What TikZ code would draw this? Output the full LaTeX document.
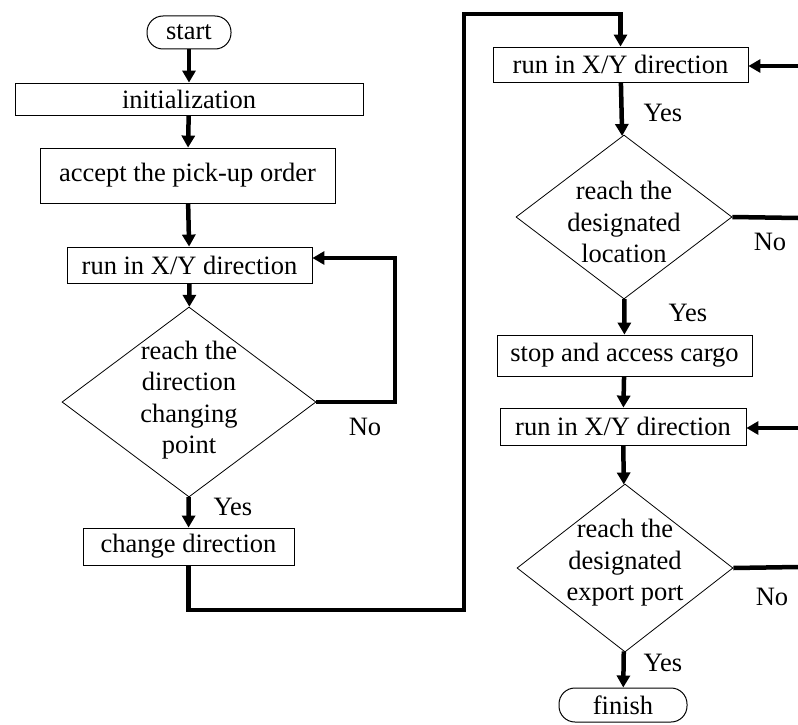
\documentclass[tikz,border=0pt]{standalone}
\usepackage{fontspec}
\setmainfont{Liberation Serif}
\usetikzlibrary{arrows.meta,shapes.geometric}
\begin{document}
\begin{tikzpicture}[x=1pt,y=-1pt,
  every node/.style={font=\fontsize{26.5}{31.5}\selectfont},
  box/.style={draw,line width=0.8pt,rectangle,inner sep=0pt,align=center},
  term/.style={draw,line width=1pt,rectangle,rounded corners=16pt,inner sep=0pt},
  dia/.style={draw,line width=0.8pt,diamond,inner sep=0pt},
  dtext/.style={align=center,inner sep=0pt},
  lbl/.style={inner sep=0pt},
  flow/.style={line width=4.5pt,-{Triangle[length=12pt,width=13pt]}},
  plain/.style={line width=4.5pt}
]
\useasboundingbox (0,0) rectangle (798,725);
% left column
\node[term,minimum width=84pt,minimum height=33pt] (start) at (189,32.5) {start};
\node[box,minimum width=348pt,minimum height=32pt] (init) at (189,99) {initialization};
\node[box,minimum width=295pt,minimum height=55pt] (accept) at (187.5,175.5) {accept the pick-up order};
\node[box,minimum width=245pt,minimum height=36pt] (run1) at (189.5,265) {run in X/Y direction};
\node[dia,minimum width=254pt,minimum height=190pt] (d1) at (189,402) {};
\node[dtext] (d1t) at (189,400) {reach the\\direction\\changing\\point};
\node[box,minimum width=211pt,minimum height=37pt] (change) at (188.5,546.5) {change direction};
\node[lbl] (no1) at (365,427) {No};
\node[lbl] (yes1) at (233,507) {Yes};
% right column
\node[box,minimum width=255pt,minimum height=35pt] (run2) at (620.5,64.5) {run in X/Y direction};
\node[dia,minimum width=216pt,minimum height=164pt] (d2) at (624,217) {};
\node[dtext] (d2t) at (624,222) {reach the\\designated\\location};
\node[box,minimum width=255pt,minimum height=41pt] (stop) at (624.5,355.5) {stop and access cargo};
\node[box,minimum width=246pt,minimum height=37pt] (run3) at (623,426.5) {run in X/Y direction};
\node[dia,minimum width=216pt,minimum height=168pt] (d3) at (625,568) {};
\node[dtext] (d3t) at (625,563) {reach the\\designated\\export port};
\node[term,minimum width=128pt,minimum height=34pt] (finish) at (623,705) {finish};
\node[lbl] (yes2) at (663,113) {Yes};
\node[lbl] (no2) at (770,242) {No};
\node[lbl] (yes3) at (688,313) {Yes};
\node[lbl] (no3) at (772,597) {No};
\node[lbl] (yes4) at (663,663) {Yes};
% coordinates
\coordinate (c1) at (395,258);
\coordinate (c2) at (464,610);
\coordinate (c3) at (464,14);
\coordinate (e1) at (798,66);
\coordinate (e2) at (798,218);
\coordinate (e3) at (798,428);
\coordinate (e4) at (798,567);
% connectors
\draw[flow] (start) -- (init);
\draw[flow] (init) -- (accept);
\draw[flow] (accept) -- (run1);
\draw[flow] (run1) -- (d1);
\draw[flow] (d1) -- (change);
\draw[flow,line join=miter] (d1.east) -- (d1.east -| c1) -- (c1) -- (c1 -| run1.east);
\draw[flow,line join=miter] (change.south) -- (change.south |- c2) -- (c2) -- (c3) -- (c3 -| run2.north) -- (run2.north);
\draw[flow] (e1) -- (e1 -| run2.east);
\draw[flow] (run2) -- (d2);
\draw[plain] (d2.east) -- (e2);
\draw[flow] (d2) -- (stop);
\draw[flow] (stop) -- (run3);
\draw[flow] (e3) -- (e3 -| run3.east);
\draw[flow] (run3) -- (d3);
\draw[plain] (d3.east) -- (e4);
\draw[flow] (d3) -- (finish);
\end{tikzpicture}
\end{document}
